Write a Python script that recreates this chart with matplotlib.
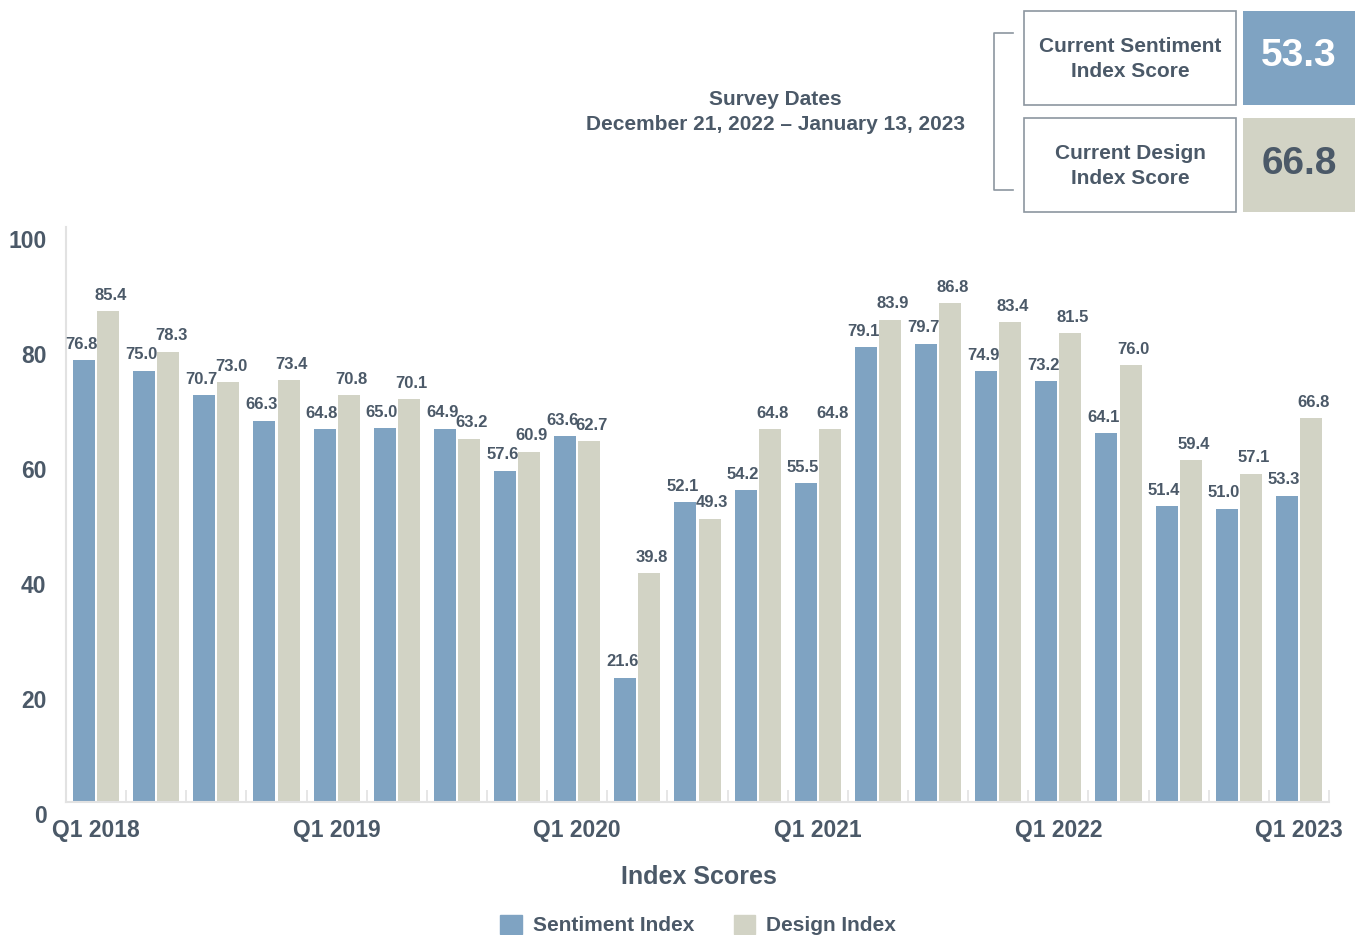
import matplotlib.pyplot as plt
import matplotlib.transforms as mtransforms
from matplotlib.patches import Rectangle
from matplotlib.lines import Line2D
import numpy as np

plt.rcParams['font.family'] = ['Liberation Sans', 'DejaVu Sans']
plt.rcParams['font.weight'] = 'bold'

# 資料
quarters = ['Q1 2018', 'Q2 2018', 'Q3 2018', 'Q4 2018',
            'Q1 2019', 'Q2 2019', 'Q3 2019', 'Q4 2019',
            'Q1 2020', 'Q2 2020', 'Q3 2020', 'Q4 2020',
            'Q1 2021', 'Q2 2021', 'Q3 2021', 'Q4 2021',
            'Q1 2022', 'Q2 2022', 'Q3 2022', 'Q4 2022',
            'Q1 2023']
sentiment = [76.8, 75.0, 70.7, 66.3, 64.8, 65.0, 64.9, 57.6, 63.6, 21.6,
             52.1, 54.2, 55.5, 79.1, 79.7, 74.9, 73.2, 64.1, 51.4, 51.0, 53.3]
design = [85.4, 78.3, 73.0, 73.4, 70.8, 70.1, 63.2, 60.9, 62.7, 39.8,
          49.3, 64.8, 64.8, 83.9, 86.8, 83.4, 81.5, 76.0, 59.4, 57.1, 66.8]
y_ticks = [0, 20, 40, 60, 80, 100]
survey_dates = 'Survey Dates\nDecember 21, 2022 – January 13, 2023'

text_color = '#4b5968'
blue = '#7fa3c2'
beige = '#d2d3c5'
grid_grey = '#e2e2e2'

W, H = 1360, 935
fig = plt.figure(figsize=(W / 100, H / 100), dpi=100)

ax = fig.add_axes([66 / W, 1 - 802 / H, (1329 - 66) / W, (802 - 227) / H])

x = np.arange(len(quarters))
bw = 22 / 60
ax.bar(x - 0.2, sentiment, width=bw, color=blue, zorder=2)
ax.bar(x + 0.2, design, width=bw, color=beige, zorder=2)

for i in range(len(quarters)):
    ax.annotate(f'{sentiment[i]:.1f}', (x[i] - 0.2, sentiment[i]), xytext=(-2, 6),
                textcoords='offset points', ha='center', va='bottom',
                fontsize=12, fontweight='bold', color=text_color)
    ax.annotate(f'{design[i]:.1f}', (x[i] + 0.2, design[i]), xytext=(2, 6),
                textcoords='offset points', ha='center', va='bottom',
                fontsize=12, fontweight='bold', color=text_color)

ax.set_xlim(-0.5, len(quarters) - 0.5)
ax.set_ylim(0, 100)

# 座標軸樣式
for s in ['top', 'right']:
    ax.spines[s].set_visible(False)
for s in ['left', 'bottom']:
    ax.spines[s].set_color(grid_grey)
    ax.spines[s].set_linewidth(1.5)

major_idx = [i for i, q in enumerate(quarters) if q.startswith('Q1')]
ax.set_xticks(major_idx)
ax.set_xticklabels([quarters[i] for i in major_idx], fontsize=16.5,
                   fontweight='bold', color=text_color)
ax.set_xticks(np.arange(-0.5, len(quarters)), minor=True)
ax.tick_params(axis='x', which='major', length=0, pad=12.5)
ax.tick_params(axis='x', which='minor', direction='in', length=9,
               color=grid_grey, width=1.2)

ax.set_yticks(y_ticks)
ax.set_yticklabels([str(v) for v in y_ticks], fontsize=16.5,
                   fontweight='bold', color=text_color)
ax.tick_params(axis='y', length=0, pad=14)
offset = mtransforms.ScaledTranslation(0, -12 / 100, fig.dpi_scale_trans)
for lbl in ax.get_yticklabels():
    lbl.set_transform(lbl.get_transform() + offset)

fig.text(699 / W, 1 - 877 / H, 'Index Scores', ha='center', va='center',
         fontsize=18, fontweight='bold', color=text_color)

handles = [Rectangle((0, 0), 1, 1, color=blue), Rectangle((0, 0), 1, 1, color=beige)]
leg = fig.legend(handles, ['Sentiment Index', 'Design Index'], loc='center',
                 bbox_to_anchor=(698 / W, 1 - 925 / H), ncol=2, frameon=False,
                 prop={'size': 15, 'weight': 'bold'}, handlelength=1.05,
                 handleheight=1.05, handletextpad=0.5, columnspacing=1.9)
for t in leg.get_texts():
    t.set_color(text_color)

# 調查日期
fig.text(775 / W, 1 - 112 / H, survey_dates, ha='center', va='center',
         fontsize=15, fontweight='bold', color=text_color, linespacing=1.4)

# 右上角分數框
def px_rect(x0, y0, x1, y1, **kw):
    fig.add_artist(Rectangle((x0 / W, 1 - y1 / H), (x1 - x0) / W, (y1 - y0) / H,
                             transform=fig.transFigure, **kw))

px_rect(1024, 11, 1236, 105, facecolor='white', edgecolor='#8c969f', linewidth=1.2)
px_rect(1243, 11, 1355, 105, facecolor=blue, edgecolor='none')
px_rect(1024, 118, 1236, 212, facecolor='white', edgecolor='#8c969f', linewidth=1.2)
px_rect(1243, 118, 1355, 212, facecolor=beige, edgecolor='none')

fig.text(1130 / W, 1 - 59 / H, 'Current Sentiment\nIndex Score', ha='center', va='center',
         fontsize=15, fontweight='bold', color=text_color, linespacing=1.35)
fig.text(1130 / W, 1 - 166 / H, 'Current Design\nIndex Score', ha='center', va='center',
         fontsize=15, fontweight='bold', color=text_color, linespacing=1.35)
fig.text(1299 / W, 1 - 56 / H, f'{sentiment[-1]:.1f}', ha='center', va='center',
         fontsize=28, fontweight='bold', color='white')
fig.text(1299 / W, 1 - 164 / H, f'{design[-1]:.1f}', ha='center', va='center',
         fontsize=28, fontweight='bold', color=text_color)

bx = [1013 / W, 994 / W, 994 / W, 1013 / W]
by = [1 - 33 / H, 1 - 33 / H, 1 - 190 / H, 1 - 190 / H]
fig.add_artist(Line2D(bx, by, transform=fig.transFigure, color='#8c969f', linewidth=1.2))

fig.savefig('out.png', dpi=100)
